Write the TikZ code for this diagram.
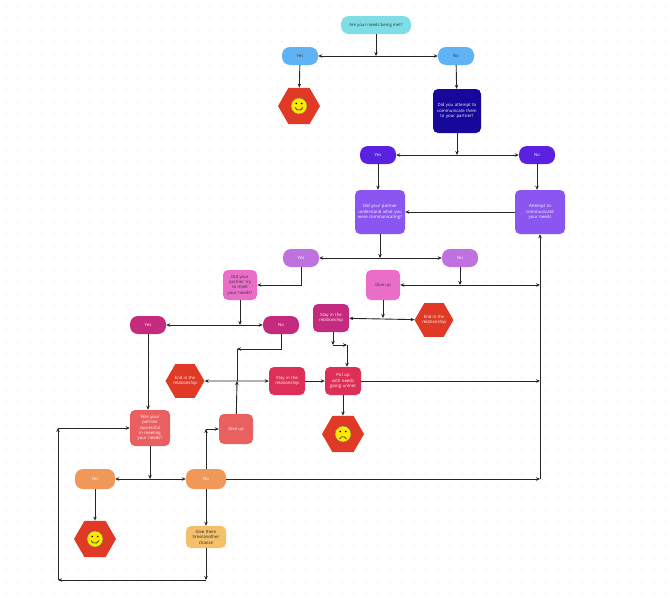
\documentclass[tikz,border=0pt]{standalone}
\usepackage{fontspec}
\setmainfont{Open Sans}
\usetikzlibrary{shapes.geometric,arrows.meta}
\definecolor{cyanb}{HTML}{7FDDE6}
\definecolor{blueb}{HTML}{5FB3F5}
\definecolor{navyb}{HTML}{15089A}
\definecolor{violb}{HTML}{5B21E0}
\definecolor{lavb}{HTML}{8A55F0}
\definecolor{lilb}{HTML}{C071E0}
\definecolor{pinkb}{HTML}{EA6EC8}
\definecolor{magb}{HTML}{C42A7E}
\definecolor{crimb}{HTML}{DD2F58}
\definecolor{salb}{HTML}{EA6060}
\definecolor{orb}{HTML}{F0985A}
\definecolor{yelb}{HTML}{F5C06A}
\definecolor{redh}{HTML}{E03A26}
\tikzset{
 fnt/.style={font=\fontsize{4.3}{5.4}\selectfont},
 box/.style={fnt,rounded corners=5pt,minimum width=#1,align=center,text=white,inner sep=1pt,text width=#1-5pt},
 pill/.style={fnt,rounded corners=8pt,minimum width=36pt,minimum height=18pt,text=white},
 hexa/.style={fnt,regular polygon,regular polygon sides=6,fill=redh,minimum size=42pt,inner sep=0pt,text=white,align=center},
 ln/.style={line width=0.9pt,black!85},
 ar/.style={ln,-{Stealth[length=4pt,width=3.5pt]}},
 dar/.style={ln,{Stealth[length=4pt,width=3.5pt]}-{Stealth[length=4pt,width=3.5pt]}},
}
\newcommand{\smiley}[2]{\fill[yellow!90!orange,draw=black!60,line width=0.3pt] (#1) circle (8pt);
 \fill (#1) ++(-2.7pt,2.5pt) circle (0.9pt); \fill (#1) ++(2.7pt,2.5pt) circle (0.9pt);
 \ifnum#2=1 \draw[line width=0.5pt] (#1) ++(-4pt,-1.5pt) arc[start angle=200,end angle=340,radius=4.2pt];
 \else \draw[line width=0.5pt] (#1) ++(-3.5pt,-5pt) arc[start angle=160,end angle=20,radius=3.7pt];\fi}
\begin{document}
\hyphenpenalty=10000
\exhyphenpenalty=10000
\begin{tikzpicture}[x=1pt,y=-1pt]
\fill[white] (0,0) rectangle (669,600);
\useasboundingbox (0,0) rectangle (669,600);
\foreach \i in {0,...,55}{\foreach \j in {0,...,49}{\fill[black!18] (6+12*\i,6+12*\j) circle (0.6pt);}}
% nodes
\node[pill,fill=cyanb,text=black!80,minimum width=70pt] (q0) at (376,25) {Are your needs being met?};
\node[pill,fill=blueb,text=black!80] (yes1) at (300,56) {Yes};
\node[pill,fill=blueb,text=black!80] (no1) at (456,56) {No};
\node[hexa] (hap1) at (299,106) {};
\node[box=48pt,fill=navyb,minimum height=44pt] (q1) at (457,111) {Did you attempt to communicate them to your partner?};
\node[pill,fill=violb] (yes2) at (378,155) {Yes};
\node[pill,fill=violb] (no2) at (537,155) {No};
\node[box=50pt,fill=lavb,minimum height=44pt] (q2) at (380,212) {Did your partner understand what you were communicating?};
\node[box=50pt,fill=lavb,minimum height=44pt] (att) at (540,212) {Attempt to communicate your needs};
\node[pill,fill=lilb] (yes3) at (301,258) {Yes};
\node[pill,fill=lilb] (no3) at (460,258) {No};
\node[box=34pt,fill=pinkb,text=black!80,minimum height=30pt] (q3) at (240,285) {Did your partner try to meet your needs?};
\node[box=34pt,fill=pinkb,text=black!80,minimum height=30pt] (gu1) at (383,285) {Give up};
\node[box=36pt,fill=magb,minimum height=28pt] (st1) at (331,318) {Stay in the relationship};
\node[hexa,minimum size=38pt] (end1) at (434,320) {End in the\\relationship};
\node[pill,fill=magb] (yes4) at (148,325) {Yes};
\node[pill,fill=magb] (no4) at (281,325) {No};
\node[hexa,minimum size=38pt] (end2) at (185,381) {End in the\\relationship};
\node[box=36pt,fill=crimb,minimum height=28pt] (st2) at (287,381) {Stay in the relationship};
\node[box=36pt,fill=crimb,minimum height=28pt] (pu) at (343,381) {Put up with needs going unmet};
\node[hexa] (sad) at (343,434) {};
\node[box=40pt,fill=salb,minimum height=36pt] (q4) at (150,428) {Was your partner successful in meeting your needs?};
\node[box=34pt,fill=salb,minimum height=30pt] (gu2) at (236,429) {Give up};
\node[pill,fill=orb,minimum width=40pt,minimum height=20pt] (yes5) at (95,479) {Yes};
\node[pill,fill=orb,minimum width=40pt,minimum height=20pt] (no5) at (206,479) {No};
\node[hexa] (hap2) at (95,539) {};
\node[box=40pt,fill=yelb,text=black!85,minimum height=22pt] (give) at (206,537) {Give them time/another chance};
\smiley{hap1.center}{1}
\smiley{hap2.center}{1}
\smiley{sad.center}{0}
% coordinates
\coordinate (r287) at (540,285);
\coordinate (r381) at (540,381);
\coordinate (r480) at (540,479);
\coordinate (j1) at (237,349);
\coordinate (j2) at (237,381);
\coordinate (k1) at (206,429);
\coordinate (b1) at (206,580);
\coordinate (b2) at (58,580);
\coordinate (b3) at (58,428);
\coordinate (s1) at (333,345);
\coordinate (s2) at (347,345);
% connectors
\draw[dar] (yes1) -- (no1);
\draw[ar] (q0) -- (q0|-yes1);
\draw[ar] (yes1) -- (hap1);
\draw[ar] (no1) -- (q1);
\draw[dar] (yes2) -- (no2);
\draw[ar] (q1) -- (q1|-yes2);
\draw[ar] (yes2) -- (yes2|-q2.north);
\draw[ar] (no2) -- (no2|-att.north);
\draw[ar] (att) -- (q2);
\draw[dar] (yes3) -- (no3);
\draw[ar] (q2) -- (q2|-yes3);
\draw[ar] (yes3.south) |- (q3.east);
\draw[ar] (no3) -- (no3|-gu1);
\draw[dar] (gu1) -- (r287);
\draw[dar] (st1) -- (end1);
\draw[ar] (gu1) -- (gu1|-st1);
\draw[ar] (st1.south-|s1) -- (s1);
\draw[ar] (s1) -- (s2);
\draw[ar] (s2) -- (s2|-pu.north);
\draw[dar] (yes4) -- (no4);
\draw[ar] (q3) -- (q3|-no4);
\draw[ar] (yes4) -- (yes4|-q4.north);
\draw[ar] (no4.south) |- (j1);
\draw[ln] (j1) -- (j2);
\draw[ar] (gu2) -- (j2);
\draw[dar] (end2) -- (st2);
\draw[ar] (st2) -- (pu);
\draw[ar] (pu) -- (sad);
\draw[ar] (pu) -- (r381);
\draw[dar] (yes5) -- (no5);
\draw[ar] (q4) -- (q4|-yes5);
\draw[ar] (yes5) -- (hap2);
\draw[ar] (no5) -- (give);
\draw[ar] (no5) -- (k1);
\draw[ar] (k1) -- (gu2);
\draw[ar] (no5) -- (r480);
\draw[ar] (give) -- (b1);
\draw[ar] (b1) -- (b2);
\draw[ar] (b2) -- (b3);
\draw[ar] (b3) -- (q4);
\draw[ar] (r480) -- (att);
\end{tikzpicture}
\end{document}
